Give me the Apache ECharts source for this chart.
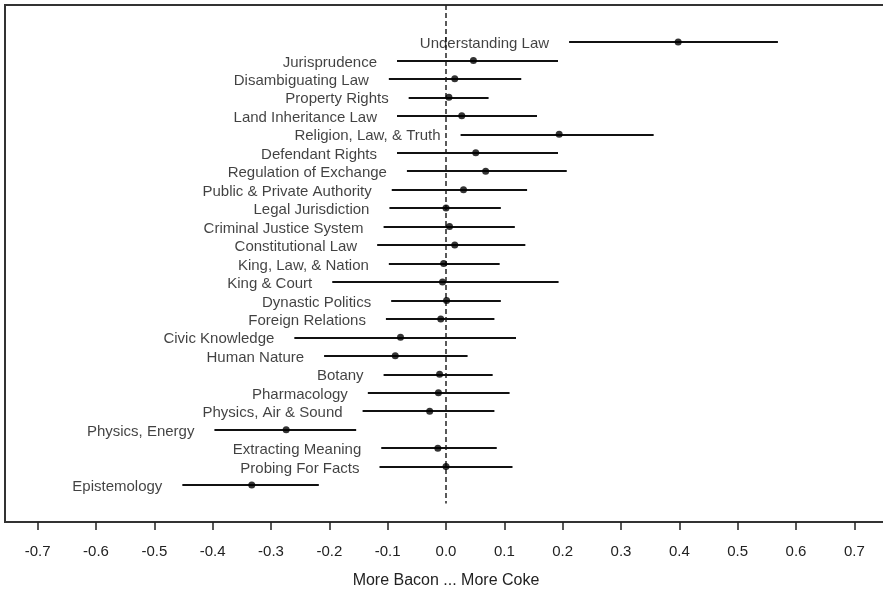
<!DOCTYPE html>
<html>
<head>
<meta charset="utf-8">
<script src="https://cdn.jsdelivr.net/npm/echarts@6/dist/echarts.min.js"></script>
<style>
  html, body { margin: 0; padding: 0; background: #fff; }
  #chart { width: 883px; height: 591px; }
</style>
</head>
<body>
<div id="chart"></div>
<script>
const topics = [
  'Understanding Law', 'Jurisprudence', 'Disambiguating Law', 'Property Rights',
  'Land Inheritance Law', 'Religion, Law, & Truth', 'Defendant Rights',
  'Regulation of Exchange', 'Public & Private Authority', 'Legal Jurisdiction',
  'Criminal Justice System', 'Constitutional Law', 'King, Law, & Nation',
  'King & Court', 'Dynastic Politics', 'Foreign Relations', 'Civic Knowledge',
  'Human Nature', 'Botany', 'Pharmacology', 'Physics, Air & Sound',
  'Physics, Energy', 'Extracting Meaning', 'Probing For Facts', 'Epistemology'
]
const means = [
  0.398, 0.047, 0.015, 0.005, 0.027, 0.194, 0.051, 0.068, 0.030, 0.000,
  0.006, 0.015, -0.004, -0.006, 0.001, -0.009, -0.078, -0.087, -0.011, -0.013,
  -0.028, -0.274, -0.014, 0.000, -0.333
]
const lows = [
  0.211, -0.084, -0.098, -0.064, -0.084, 0.025, -0.084, -0.067, -0.093, -0.097,
  -0.107, -0.118, -0.098, -0.195, -0.094, -0.103, -0.260, -0.209, -0.107, -0.134,
  -0.143, -0.397, -0.111, -0.114, -0.452
]
const highs = [
  0.569, 0.192, 0.129, 0.073, 0.156, 0.356, 0.192, 0.207, 0.139, 0.094,
  0.118, 0.136, 0.092, 0.193, 0.094, 0.083, 0.120, 0.037, 0.080, 0.109,
  0.083, -0.154, 0.087, 0.114, -0.218
]
const xTicks = [-0.7, -0.6, -0.5, -0.4, -0.3, -0.2, -0.1, 0, 0.1, 0.2, 0.3, 0.4, 0.5, 0.6, 0.7]
const xTitle = 'More Bacon ... More Coke'

const font = 'Arial, "Liberation Sans", sans-serif'

const chart = echarts.init(document.getElementById('chart'))

const intervals = topics.map((t, i) => ({ coords: [[lows[i], i], [highs[i], i]] }))
const dots = topics.map((t, i) => [means[i], i])
const labelPts = topics.map((t, i) => ({ value: [lows[i], i], name: t }))

chart.setOption({
  animation: false,
  grid: {
    left: 5,
    top: 5,
    width: 882,
    height: 517,
    outerBoundsMode: 'none',
    containLabel: false,
    show: true,
    borderColor: '#333',
    borderWidth: 2
  },
  xAxis: {
    type: 'value',
    min: -0.756,
    max: 0.756,
    splitLine: { show: false },
    axisLine: { show: false, onZero: false },
    axisTick: {
      show: true,
      customValues: xTicks,
      length: 8,
      lineStyle: { color: '#222', width: 1.5 }
    },
    axisLabel: {
      customValues: xTicks,
      margin: 22,
      fontFamily: font,
      fontSize: 15,
      color: '#222',
      formatter: v => v.toFixed(1)
    },
    name: xTitle,
    nameLocation: 'middle',
    nameGap: 51,
    nameTextStyle: { fontFamily: font, fontSize: 16, color: '#222' }
  },
  yAxis: {
    type: 'value',
    min: -2,
    max: 26,
    inverse: true,
    show: false
  },
  series: [
    {
      type: 'line',
      data: [[0, -2], [0, 25]],
      symbol: 'none',
      lineStyle: { color: '#222', width: 1.5, type: [5, 3] },
      z: 1
    },
    {
      type: 'lines',
      coordinateSystem: 'cartesian2d',
      data: intervals,
      lineStyle: { color: '#111', width: 2, opacity: 1 },
      z: 2
    },
    {
      type: 'scatter',
      data: dots,
      symbolSize: 7,
      itemStyle: { color: '#000' },
      z: 3
    },
    {
      type: 'scatter',
      data: labelPts,
      symbolSize: 0,
      label: {
        show: true,
        position: 'left',
        distance: 20,
        offset: [0, 2],
        formatter: p => p.name,
        fontFamily: font,
        fontSize: 15,
        color: '#111'
      },
      z: 3
    }
  ]
})
</script>
</body>
</html>
